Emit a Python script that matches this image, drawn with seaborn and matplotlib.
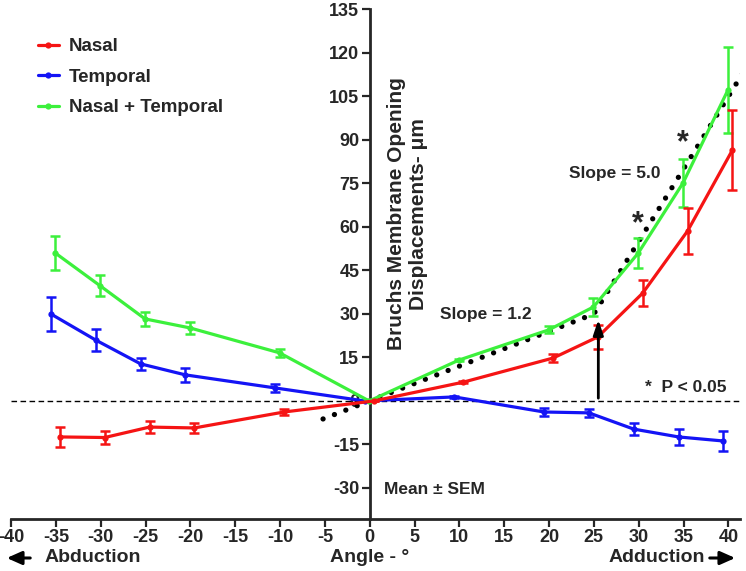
import numpy as np
import pandas as pd
import matplotlib
matplotlib.use("Agg")
import matplotlib.pyplot as plt
import seaborn as sns

# data
angles = [-35, -30, -25, -20, -10, 0, 10, 20, 25, 30, 35, 40]
nasal = [-12.4, -12.6, -9.0, -9.3, -3.8, 0, 6.5, 14.8, 22.1, 37.2, 58.6, 86.5]
nasal_sem = [3.3, 2.3, 2.1, 1.8, 1.1, 0, 0.4, 1.5, 4.1, 4.5, 7.8, 13.8]
temporal = [30.0, 21.0, 12.8, 9.0, 4.5, 0, 1.4, -3.8, -4.1, -9.7, -12.4, -13.8]
temporal_sem = [5.9, 3.8, 2.1, 2.3, 1.5, 0, 0.4, 1.5, 1.4, 2.2, 2.7, 3.6]
combined = [51.0, 39.7, 28.3, 25.2, 16.6, 0, 14.1, 24.5, 32.4, 51.0, 75.2, 107.2]
combined_sem = [5.8, 3.6, 2.3, 2.2, 1.4, 0, 0.4, 1.2, 3.1, 5.2, 8.4, 14.7]

# piecewise fit line (slope 1.2 then 5.0)
fit_x = [-5.2, 25, 41.6]
fit_y = [-6.2, 30, 113]

x_ticks = list(range(-40, 45, 5))
y_ticks = list(range(-30, 150, 15))

sns.set_style("ticks")
plt.rcParams["font.family"] = ["Liberation Sans", "DejaVu Sans"]
plt.rcParams["font.weight"] = "bold"
plt.rcParams["axes.unicode_minus"] = False

fig = plt.figure(figsize=(7.46, 5.71), dpi=100)
ax = fig.add_axes([11 / 746, 52 / 571, 729 / 746, 509.5 / 571])

series = [
    ("Temporal", temporal, temporal_sem, "#1414f5", -0.55),
    ("Nasal + Temporal", combined, combined_sem, "#3cf03c", -0.05),
    ("Nasal", nasal, nasal_sem, "#f51414", 0.45),
]

ax.axhline(0, color="black", lw=1.0, ls=(0, (4, 2.5)), zorder=1)

ax.plot(fit_x, fit_y, color="black", lw=3.8, ls=(0, (0.01, 2.3)),
        dash_capstyle="round", zorder=2)

for name, vals, sem, col, dx in series:
    df = pd.DataFrame({"angle": np.array(angles) + dx, "disp": vals})
    sns.lineplot(data=df, x="angle", y="disp", ax=ax, color=col, lw=2.3,
                 marker="o", markersize=4.5, markeredgewidth=0,
                 errorbar=None, label=name, zorder=3)
    ax.errorbar(df["angle"], df["disp"], yerr=sem, fmt="none", ecolor=col,
                elinewidth=1.8, capsize=3.5, capthick=1.8, zorder=3)

h, l = ax.get_legend_handles_labels()
lookup = dict(zip(l, h))
order = ["Nasal", "Temporal", "Nasal + Temporal"]
ax.legend([lookup[k] for k in order], order, loc="upper left",
          bbox_to_anchor=(38 / 746, 1 - 38 / 571), bbox_transform=fig.transFigure,
          frameon=False, handlelength=1.1, handletextpad=0.55,
          labelspacing=0.72, borderpad=0, borderaxespad=0,
          prop={"weight": "bold", "size": 13.5})

ax.set_xlim(-40, 41.3)
ax.set_ylim(-40.7, 135)
ax.set_xlabel("")
ax.set_ylabel("")

ax.spines["top"].set_visible(False)
ax.spines["right"].set_visible(False)
ax.spines["left"].set_position(("data", 0))
for s in ["left", "bottom"]:
    ax.spines[s].set_linewidth(2)
ax.tick_params(axis="both", direction="out", width=1.6, length=5.5, pad=2)
ax.set_xticks(x_ticks, labels=[str(v) for v in x_ticks],
              fontweight="bold", fontsize=13)
ax.set_yticks(y_ticks, labels=[str(v) for v in y_ticks],
              fontweight="bold", fontsize=13)

ax.text(4.2, 64.5, "Bruchs Membrane Opening\nDisplacements- μm", rotation=90,
        ha="center", va="center", fontsize=15, fontweight="bold")
ax.text(13.0, 29.7, "Slope = 1.2", ha="center", va="center", fontsize=12.5,
        fontweight="bold")
ax.text(27.3, 78.6, "Slope = 5.0", ha="center", va="center", fontsize=12.5,
        fontweight="bold")
ax.text(29.9, 61.0, "*", ha="center", va="center", fontsize=22, fontweight="bold")
ax.text(34.9, 89.0, "*", ha="center", va="center", fontsize=22, fontweight="bold")
ax.text(35.2, 4.8, "*  P < 0.05", ha="center", va="center", fontsize=12.5,
        fontweight="bold")
ax.text(1.6, -30.4, "Mean ± SEM", ha="left", va="center", fontsize=12.5,
        fontweight="bold")
ax.annotate("", xy=(25.5, 29), xytext=(25.5, 0),
            arrowprops=dict(arrowstyle="-|>,head_width=0.3,head_length=0.9",
                            color="black", lw=2))

yb = 1 - 558 / 571
fig.text(370 / 746, yb, "Angle - °", ha="center", va="center",
         fontsize=14, fontweight="bold")
fig.text(45 / 746, yb, "Abduction", ha="left", va="center",
         fontsize=14, fontweight="bold")
fig.text(705 / 746, yb, "Adduction", ha="right", va="center",
         fontsize=14, fontweight="bold")
arrow_kw = dict(arrowstyle="-|>,head_width=0.2,head_length=0.45", color="black", lw=2.2)
fig.add_artist(matplotlib.patches.FancyArrowPatch(
    (33 / 746, yb), (4 / 746, yb), transform=fig.transFigure,
    mutation_scale=20, **arrow_kw))
fig.add_artist(matplotlib.patches.FancyArrowPatch(
    (707 / 746, yb), (738 / 746, yb), transform=fig.transFigure,
    mutation_scale=20, **arrow_kw))

fig.savefig("out.png", dpi=100)
